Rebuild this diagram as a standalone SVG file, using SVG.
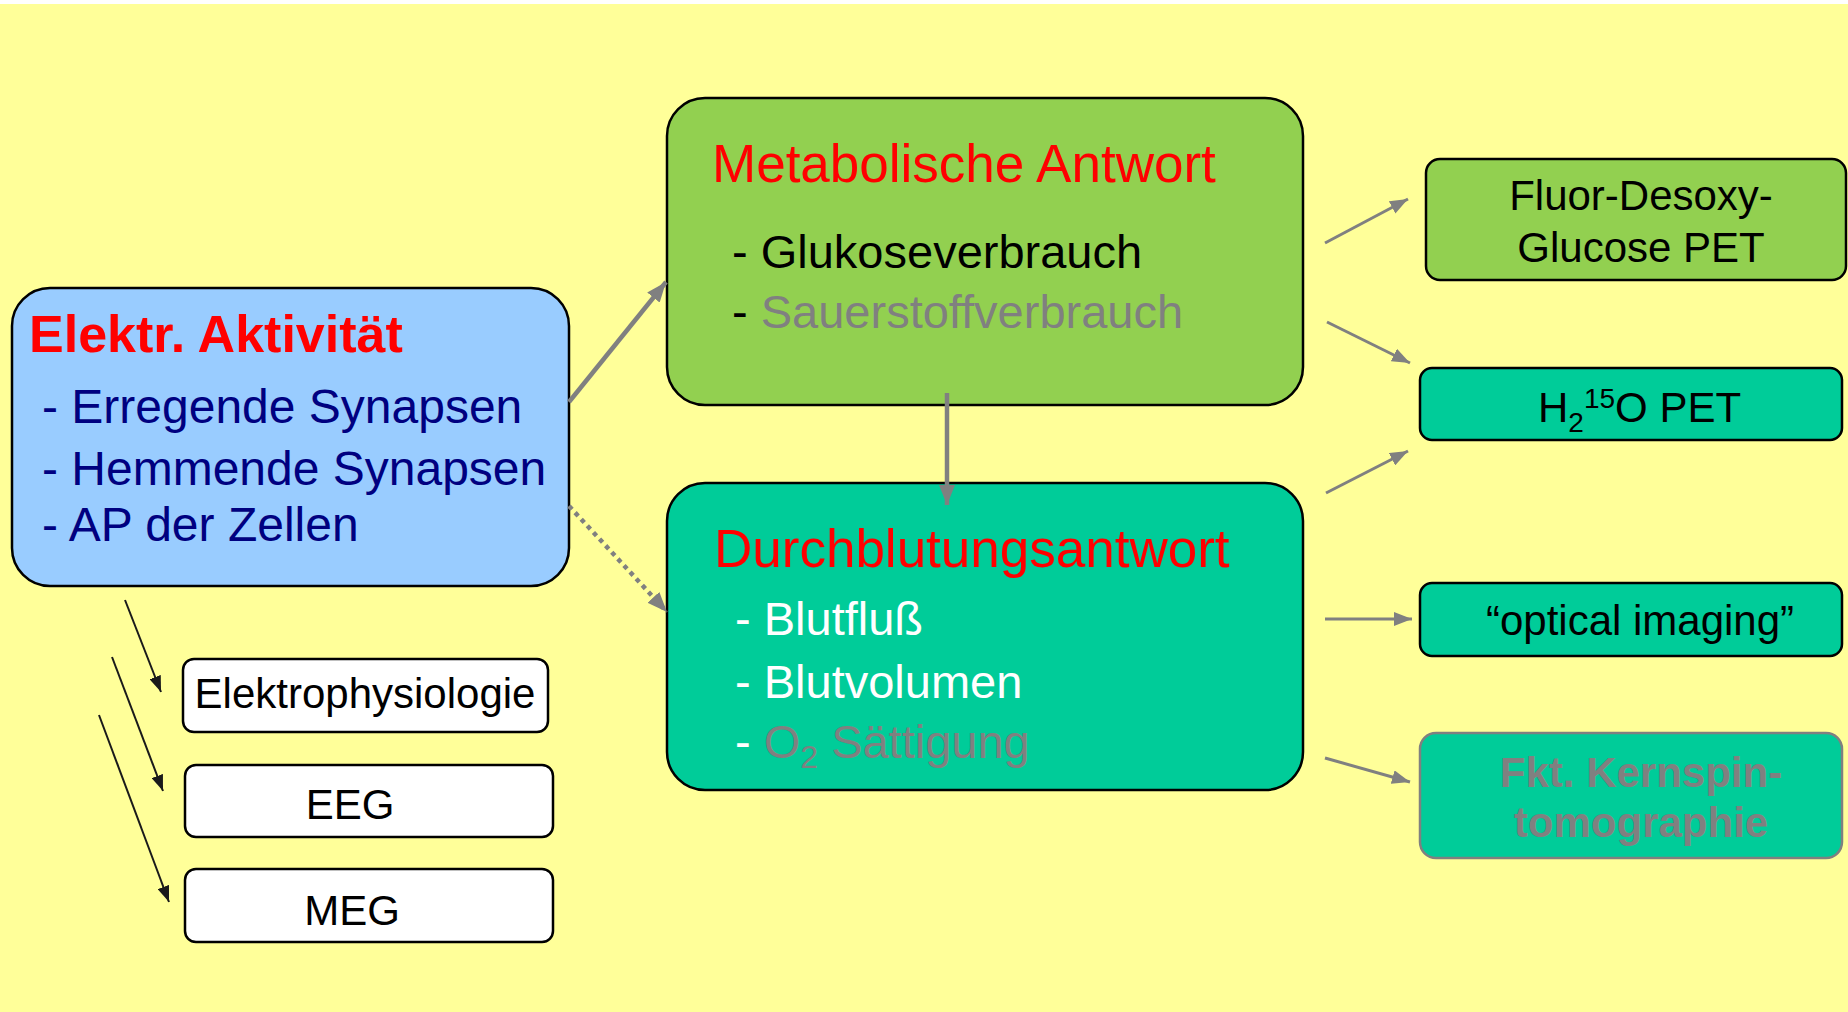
<svg xmlns="http://www.w3.org/2000/svg" width="1848" height="1012" viewBox="0 0 1848 1012">
<defs>
<style>
text{font-family:"Liberation Sans",Arial,sans-serif;}
.box{stroke:#000;stroke-width:2.5;}
.blue{fill:#99CCFF;}
.green{fill:#92D050;}
.teal{fill:#00CC99;}
.white{fill:#FFFFFF;}
.red{fill:#FF0000;}
.navy{fill:#000080;}
.gray{fill:#808080;}
.blk{fill:#000;}
.wht{fill:#FFF;}
.gl{stroke:#808080;fill:none;}
.bl{stroke:#1a1a1a;fill:none;stroke-width:2;}
</style>
<marker id="ga" markerUnits="userSpaceOnUse" viewBox="0 0 20 16" markerWidth="20" markerHeight="16" refX="20" refY="8" orient="auto"><path d="M0,0 L20,8 L0,16 z" fill="#808080"/></marker>
<marker id="gs" markerUnits="userSpaceOnUse" viewBox="0 0 18 14" markerWidth="18" markerHeight="14" refX="18" refY="7" orient="auto"><path d="M0,0 L18,7 L0,14 z" fill="#808080"/></marker>
<marker id="ba" markerUnits="userSpaceOnUse" viewBox="0 0 16 12" markerWidth="16" markerHeight="12" refX="16" refY="6" orient="auto"><path d="M0,0 L16,6 L0,12 z" fill="#1a1a1a"/></marker>
</defs>
<rect x="0" y="0" width="1848" height="1012" fill="#FFFFFF"/>
<rect x="0" y="4" width="1848" height="1008" fill="#FFFF99"/>

<g id="elektr">
<rect class="box blue" x="12" y="288" width="557" height="298" rx="38" ry="38"/>
<text x="29" y="352" font-size="52" font-weight="bold" class="red">Elektr. Aktivität</text>
<text x="42" y="423" font-size="48" class="navy">- Erregende Synapsen</text>
<text x="42" y="485" font-size="48" class="navy">- Hemmende Synapsen</text>
<text x="42" y="541" font-size="48" class="navy">- AP der Zellen</text>
</g>

<g id="metabolisch">
<rect class="box green" x="667" y="98" width="636" height="307" rx="38" ry="38"/>
<text x="712" y="182" font-size="53" class="red">Metabolische Antwort</text>
<text x="732" y="268" font-size="47" class="blk">- Glukoseverbrauch</text>
<text x="732" y="328" font-size="47" class="blk">- <tspan class="gray">Sauerstoffverbrauch</tspan></text>
</g>

<g id="durchblutung">
<rect class="box teal" x="667" y="483" width="636" height="307" rx="38" ry="38"/>
<text x="714" y="567" font-size="53" class="red">Durchblutungsantwort</text>
<text x="735" y="635" font-size="47" class="wht">- Blutfluß</text>
<text x="735" y="698" font-size="47" class="wht">- Blutvolumen</text>
<text x="735" y="758" font-size="47" class="wht">- <tspan class="gray">O</tspan><tspan class="gray" font-size="32" dy="10">2</tspan><tspan class="gray" dy="-10"> Sättigung</tspan></text>
</g>

<g id="fdg">
<rect class="box green" x="1426" y="159" width="420" height="121" rx="14" ry="14"/>
<text x="1641" y="210" font-size="42" text-anchor="middle" class="blk">Fluor-Desoxy-</text>
<text x="1641" y="262" font-size="42" text-anchor="middle" class="blk">Glucose PET</text>
</g>

<g id="h2o">
<rect class="box teal" x="1420" y="368" width="422" height="72" rx="12" ry="12"/>
<text x="1538" y="422" font-size="42" class="blk">H<tspan font-size="28" dy="10">2</tspan><tspan font-size="28" dy="-24">15</tspan><tspan dy="14">O PET</tspan></text>
</g>

<g id="optical">
<rect class="box teal" x="1420" y="583" width="422" height="73" rx="12" ry="12"/>
<text x="1640" y="635" font-size="42" text-anchor="middle" class="blk">“optical imaging”</text>
</g>

<g id="fkt">
<rect class="teal" x="1420" y="733" width="422" height="125" rx="16" ry="16" stroke="#808080" stroke-width="2.5"/>
<text x="1641" y="787" font-size="42" font-weight="bold" text-anchor="middle" class="gray">Fkt. Kernspin-</text>
<text x="1641" y="837" font-size="42" font-weight="bold" text-anchor="middle" class="gray">tomographie</text>
</g>

<g id="elektrophysiologie">
<rect class="box white" x="183" y="659" width="365" height="73" rx="11" ry="11"/>
<text x="365" y="708" font-size="42" text-anchor="middle" class="blk">Elektrophysiologie</text>
</g>

<g id="eeg">
<rect class="box white" x="185" y="765" width="368" height="72" rx="11" ry="11"/>
<text x="350" y="819" font-size="42" text-anchor="middle" class="blk">EEG</text>
</g>

<g id="meg">
<rect class="box white" x="185" y="869" width="368" height="73" rx="11" ry="11"/>
<text x="352" y="925" font-size="42" text-anchor="middle" class="blk">MEG</text>
</g>

<g id="connectors">
<line class="gl" x1="569" y1="402" x2="666" y2="282" stroke-width="4.5" marker-end="url(#ga)"/>
<line class="gl" x1="569" y1="506" x2="667" y2="612" stroke-width="4.5" stroke-dasharray="4.5 4.5" marker-end="url(#ga)"/>
<line class="gl" x1="947" y1="393" x2="947" y2="505" stroke-width="4.5" marker-end="url(#ga)"/>
<line class="gl" x1="1325" y1="243" x2="1408" y2="199" stroke-width="3" marker-end="url(#gs)"/>
<line class="gl" x1="1327" y1="322" x2="1410" y2="363" stroke-width="3" marker-end="url(#gs)"/>
<line class="gl" x1="1326" y1="493" x2="1408" y2="451" stroke-width="3" marker-end="url(#gs)"/>
<line class="gl" x1="1325" y1="619" x2="1412" y2="619" stroke-width="3" marker-end="url(#gs)"/>
<line class="gl" x1="1325" y1="758" x2="1410" y2="782" stroke-width="3" marker-end="url(#gs)"/>
<line class="bl" x1="125" y1="600" x2="161" y2="692" marker-end="url(#ba)"/>
<line class="bl" x1="112" y1="657" x2="163" y2="791" marker-end="url(#ba)"/>
<line class="bl" x1="99" y1="715" x2="169" y2="902" marker-end="url(#ba)"/>
</g>
</svg>
